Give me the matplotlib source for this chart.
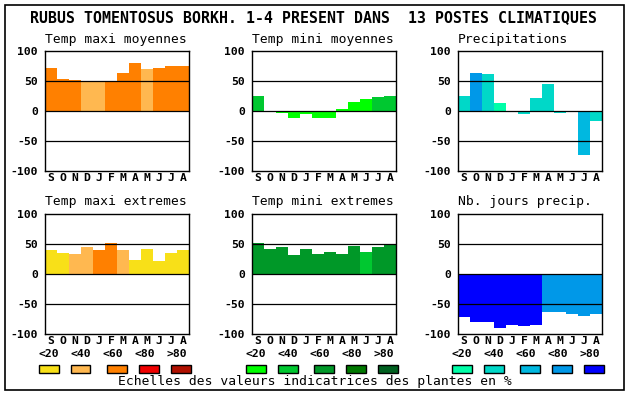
import matplotlib
matplotlib.use("Agg")
import matplotlib.pyplot as plt
from matplotlib.patches import Rectangle

plt.rcParams["axes.unicode_minus"] = False

W, H = 630, 394

months = ["S", "O", "N", "D", "J", "F", "M", "A", "M", "J", "J", "A"]
scale_labels = ["<20", "<40", "<60", "<80", ">80"]

panel_titles = ["Temp maxi moyennes", "Temp mini moyennes", "Precipitations",
                "Temp maxi extremes", "Temp mini extremes", "Nb. jours precip."]

# values and colour class (0..4 -> <20 .. >80) per month
tmax_moy = [72, 54, 52, 50, 48, 50, 63, 80, 70, 72, 75, 75]
tmax_moy_cls = [2, 2, 2, 1, 1, 2, 2, 2, 1, 2, 2, 2]
tmin_moy = [25, 0, -4, -11, -5, -11, -12, 4, 15, 20, 24, 25]
tmin_moy_cls = [1, 0, 0, 0, 0, 0, 0, 0, 0, 0, 1, 1]
precip = [25, 64, 62, 14, 0, -5, 22, 45, -4, 0, -73, -17]
precip_cls = [1, 3, 1, 0, 1, 1, 1, 1, 1, 1, 2, 1]
tmax_ext = [40, 35, 34, 45, 40, 52, 40, 24, 42, 22, 35, 40]
tmax_ext_cls = [0, 0, 1, 1, 2, 2, 1, 0, 0, 0, 0, 0]
tmin_ext = [52, 42, 45, 32, 42, 34, 37, 34, 47, 37, 45, 49]
tmin_ext_cls = [2, 2, 2, 2, 2, 2, 2, 2, 2, 1, 2, 2]
nb_jours = [-72, -80, -80, -90, -85, -87, -85, -64, -64, -66, -70, -66]
nb_jours_cls = [4, 4, 4, 4, 4, 4, 4, 3, 3, 3, 3, 3]

warm = ["#f8e018", "#ffb850", "#ff8000", "#f00000", "#b01000"]
green = ["#00ff00", "#00c830", "#009828", "#007800", "#006020"]
blue = ["#00ffa8", "#00d8c8", "#00b8e0", "#0098e8", "#0000ff"]

panels = [
    (tmax_moy, tmax_moy_cls, warm),
    (tmin_moy, tmin_moy_cls, green),
    (precip, precip_cls, blue),
    (tmax_ext, tmax_ext_cls, warm),
    (tmin_ext, tmin_ext_cls, green),
    (nb_jours, nb_jours_cls, blue),
]

mono = "DejaVu Sans Mono"
fig = plt.figure(figsize=(W / 100, H / 100), dpi=100)

def fx(x):
    return x / W

def fy(y):
    return 1 - y / H

# outer frame
fig.patches.append(Rectangle((fx(5), fy(390)), fx(619), 385 / H, fill=False,
                             edgecolor="black", linewidth=1.2, transform=fig.transFigure))

fig.text(fx(314), fy(18), "RUBUS TOMENTOSUS BORKH. 1-4 PRESENT DANS  13 POSTES CLIMATIQUES",
         ha="center", va="center", family=mono, fontsize=10.7, weight="bold")

lefts = [45, 252, 458]
tops = [51, 214]
aw, ah = 144, 120

for i, (vals, cls, pal) in enumerate(panels):
    r, c = divmod(i, 3)
    left, top = lefts[c], tops[r]
    ax = fig.add_axes([fx(left), fy(top + ah), aw / W, ah / H])
    ax.bar(range(12), vals, width=1.0, color=[pal[k] for k in cls], zorder=2)
    for yv in (-50, 0, 50):
        ax.axhline(yv, color="black", linewidth=0.9, zorder=3)
    ax.set_xlim(-0.5, 11.5)
    ax.set_ylim(-100, 100)
    ax.set_yticks([-100, -50, 0, 50, 100])
    ax.set_xticks(range(12))
    ax.set_xticklabels(months)
    ax.tick_params(length=0, labelsize=8.2)
    ax.tick_params(axis="y", pad=5)
    ax.tick_params(axis="x", pad=1.5)
    for lab in ax.get_xticklabels() + ax.get_yticklabels():
        lab.set_family(mono)
        lab.set_weight("bold")
    for s in ax.spines.values():
        s.set_linewidth(1.0)
    fig.text(fx(left), fy(top - 12), panel_titles[i], ha="left", va="center",
             family=mono, fontsize=9.4)

    # colour scale legend under bottom row
    if r == 1:
        for k in range(5):
            cx = left + 3.5 + 32 * k
            bx = left + 3.5 + 32 * k + (4 if k >= 2 else 0)
            fig.text(fx(cx), fy(354), scale_labels[k], ha="center", va="center",
                     family=mono, fontsize=8.2, weight="bold")
            fig.patches.append(Rectangle((fx(bx - 10), fy(373)), 20 / W, 8 / H,
                                         facecolor=pal[k], edgecolor="black",
                                         linewidth=1.0, transform=fig.transFigure))

fig.text(fx(315), fy(382), "Echelles des valeurs indicatrices des plantes en %",
         ha="center", va="center", family=mono, fontsize=9.4)

fig.savefig("out.png", dpi=100)
